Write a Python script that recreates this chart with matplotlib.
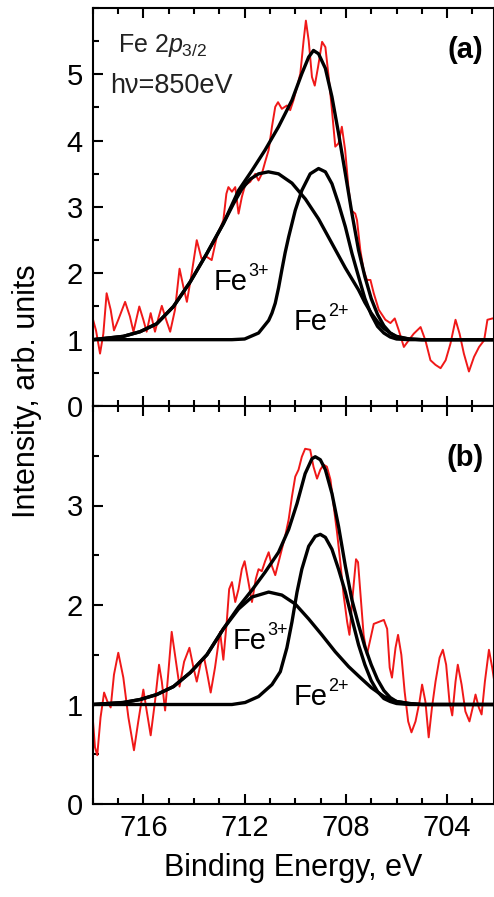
import matplotlib
matplotlib.use("Agg")
import matplotlib.pyplot as plt
from matplotlib.ticker import MultipleLocator

plt.rcParams['font.family'] = ['Liberation Sans', 'DejaVu Sans']
plt.rcParams['mathtext.fontset'] = 'custom'
plt.rcParams['mathtext.rm'] = 'Liberation Sans'
plt.rcParams['mathtext.it'] = 'Liberation Sans:italic'

# --- panel (a): measured spectrum (red) ---
a_data_e = [718.0, 717.87, 717.71, 717.58, 717.45, 717.29, 717.16, 716.99, 716.72, 716.53,
            716.39, 716.16, 716.0, 715.87, 715.71, 715.54, 715.41, 715.27, 715.10, 714.94,
            714.75, 714.57, 714.42, 714.28, 714.09, 713.89, 713.70, 713.50, 713.30, 713.10,
            712.84, 712.72, 712.64, 712.50, 712.37, 712.24, 712.11, 711.98, 711.78, 711.58,
            711.45, 711.32, 711.19, 711.05, 710.92, 710.79, 710.68, 710.53, 710.33, 710.20,
            710.07, 709.93, 709.80, 709.67, 709.58, 709.47, 709.34, 709.23, 709.10, 708.94,
            708.81, 708.68, 708.55, 708.42, 708.29, 708.16, 708.03, 707.90, 707.79, 707.63,
            707.56, 707.43, 707.30, 707.17, 707.03, 706.90, 706.70, 706.44, 706.24, 706.07,
            705.91, 705.71, 705.52, 705.32, 705.05, 704.86, 704.66, 704.46, 704.26, 704.06,
            703.87, 703.67, 703.51, 703.34, 703.14, 702.94, 702.74, 702.54, 702.41, 702.21,
            702.12]
a_data_i = [1.32, 1.14, 0.79, 1.09, 1.70, 1.45, 1.14, 1.30, 1.57, 1.35,
            1.12, 1.50, 1.30, 1.12, 1.40, 1.12, 1.32, 1.51, 1.30, 1.12,
            1.45, 2.07, 1.80, 1.57, 2.00, 2.50, 2.22, 2.25, 2.20, 2.55,
            2.80, 3.20, 3.30, 3.23, 3.30, 2.90, 3.15, 3.33, 3.38, 3.50,
            3.40, 3.50, 3.68, 3.86, 4.21, 4.51, 4.58, 4.48, 4.53, 4.46,
            4.61, 4.81, 5.01, 5.51, 5.81, 5.51, 4.96, 4.83, 5.11, 5.49,
            5.41, 4.96, 4.46, 3.91, 3.96, 4.21, 3.86, 3.30, 2.95, 2.90,
            2.80, 2.35, 2.05, 1.90, 1.90, 1.70, 1.45, 1.30, 1.25, 1.32,
            1.14, 0.89, 0.99, 1.09, 1.19, 0.99, 0.69, 0.62, 0.57, 0.69,
            0.94, 1.30, 1.09, 0.79, 0.52, 0.74, 0.89, 0.99, 1.30, 1.32,
            1.32]

# --- panel (a): fit components (black) ---
a_fe3_e = [718.0, 716.79, 716.13, 715.47, 714.81, 714.15, 713.49, 712.84, 712.44, 712.11,
           711.78, 711.45, 711.06, 710.66, 710.13, 709.60, 709.08, 708.55, 708.02, 707.50,
           707.25, 707.00, 706.75, 706.50, 706.25, 706.00, 705.50, 705.00, 702.0]
a_fe3_i = [1.00, 1.05, 1.12, 1.24, 1.50, 1.87, 2.30, 2.75, 3.05, 3.27,
           3.42, 3.50, 3.53, 3.50, 3.36, 3.12, 2.82, 2.45, 2.08, 1.75,
           1.56, 1.40, 1.27, 1.17, 1.10, 1.05, 1.01, 1.00, 1.00]

a_fe2_e = [718.0, 712.5, 712.0, 711.45, 711.05, 710.92, 710.79, 710.66, 710.53, 710.40,
           710.26, 710.00, 709.74, 709.41, 709.08, 708.81, 708.55, 708.29, 708.02, 707.76,
           707.50, 707.25, 707.00, 706.75, 706.50, 706.25, 706.00, 705.50, 702.0]
a_fe2_i = [1.00, 1.00, 1.01, 1.10, 1.29, 1.40, 1.55, 1.78, 2.05, 2.31,
           2.55, 2.95, 3.25, 3.50, 3.58, 3.53, 3.35, 3.05, 2.70, 2.30,
           1.95, 1.62, 1.38, 1.20, 1.10, 1.04, 1.01, 1.00, 1.00]

a_sum_e = [718.0, 716.79, 716.13, 715.47, 714.81, 714.15, 713.49, 712.84, 712.24, 711.71,
           711.19, 710.66, 710.13, 709.74, 709.47, 709.28, 709.08, 708.81, 708.55, 708.29,
           708.02, 707.76, 707.50, 707.25, 707.00, 706.75, 706.50, 706.25, 706.00, 705.50,
           705.00, 702.0]
a_sum_i = [1.00, 1.05, 1.12, 1.24, 1.50, 1.87, 2.30, 2.75, 3.25, 3.55,
           3.86, 4.21, 4.61, 5.01, 5.26, 5.36, 5.31, 5.09, 4.66, 4.11,
           3.50, 2.90, 2.35, 1.95, 1.62, 1.38, 1.21, 1.10, 1.04, 1.01,
           1.00, 1.00]

# --- panel (b): measured spectrum (red) ---
b_data_e = [718.0, 717.91, 717.82, 717.69, 717.55, 717.42, 717.29, 717.16, 716.99, 716.79,
            716.59, 716.37, 716.20, 716.00, 715.87, 715.71, 715.54, 715.38, 715.27, 715.14,
            715.01, 714.88, 714.75, 714.57, 714.39, 714.18, 714.02, 713.89, 713.72, 713.60,
            713.47, 713.34, 713.17, 712.97, 712.84, 712.70, 712.61, 712.50, 712.37, 712.24,
            712.11, 712.00, 711.87, 711.71, 711.56, 711.45, 711.32, 711.19, 711.05, 710.92,
            710.79, 710.66, 710.53, 710.40, 710.26, 710.13, 710.00, 709.87, 709.74, 709.61,
            709.41, 709.28, 709.14, 709.01, 708.88, 708.75, 708.61, 708.48, 708.35, 708.22,
            708.09, 707.95, 707.86, 707.73, 707.60, 707.52, 707.43, 707.30, 707.17, 707.03,
            706.90, 706.70, 706.50, 706.37, 706.27, 706.18, 706.04, 705.94, 705.81, 705.68,
            705.54, 705.41, 705.25, 705.09, 704.99, 704.86, 704.73, 704.60, 704.46, 704.30,
            704.17, 704.04, 703.91, 703.80, 703.67, 703.58, 703.43, 703.28, 703.12, 702.99,
            702.88, 702.75, 702.64, 702.51, 702.35, 702.22, 702.12]
b_data_i = [0.87, 0.57, 0.49, 0.87, 1.12, 1.03, 0.97, 1.30, 1.52, 1.27,
            0.87, 0.54, 0.83, 1.15, 0.94, 0.69, 1.03, 1.40, 1.23, 0.94,
            1.33, 1.73, 1.50, 1.18, 1.43, 1.57, 1.37, 1.23, 1.43, 1.47,
            1.30, 1.12, 1.37, 1.73, 1.45, 1.85, 2.16, 2.23, 2.03, 2.16,
            2.36, 2.44, 2.26, 2.03, 2.26, 2.36, 2.34, 2.44, 2.53, 2.39,
            2.30, 2.43, 2.56, 2.69, 2.86, 3.09, 3.29, 3.36, 3.49, 3.57,
            3.56, 3.39, 3.27, 3.36, 3.41, 3.39, 3.26, 2.99, 2.73, 2.43,
            2.10, 1.83, 1.70, 2.10, 2.46, 2.43, 2.13, 1.70, 1.50, 1.66,
            1.81, 1.83, 1.85, 1.76, 1.37, 1.27, 1.57, 1.70, 1.50, 1.13,
            0.83, 0.72, 0.83, 1.03, 1.20, 1.03, 0.67, 0.97, 1.23, 1.47,
            1.55, 1.40, 1.03, 0.89, 1.23, 1.40, 1.20, 0.93, 0.83, 0.97,
            1.10, 0.97, 0.90, 1.23, 1.55, 1.37, 1.20]

# --- panel (b): fit components (black) ---
b_fe3_e = [718.0, 716.79, 716.13, 715.47, 714.81, 714.15, 713.49, 712.84, 712.24, 711.71,
           711.05, 710.53, 710.00, 709.47, 708.95, 708.42, 707.89, 707.43, 707.00, 706.50,
           706.00, 705.50, 705.00, 702.0]
b_fe3_i = [1.00, 1.02, 1.05, 1.10, 1.18, 1.32, 1.50, 1.76, 1.96, 2.08,
           2.13, 2.10, 2.01, 1.86, 1.70, 1.53, 1.38, 1.27, 1.17, 1.08,
           1.03, 1.01, 1.00, 1.00]

b_fe2_e = [718.0, 712.5, 711.98, 711.45, 710.92, 710.59, 710.33, 710.13, 709.93, 709.74,
           709.47, 709.21, 709.01, 708.81, 708.55, 708.29, 708.02, 707.76, 707.50, 707.25,
           707.00, 706.75, 706.50, 706.25, 706.00, 705.50, 702.0]
b_fe2_i = [1.00, 1.00, 1.02, 1.08, 1.20, 1.33, 1.57, 1.83, 2.13, 2.36,
           2.59, 2.69, 2.71, 2.68, 2.56, 2.36, 2.13, 1.86, 1.60, 1.40,
           1.24, 1.13, 1.06, 1.03, 1.01, 1.00, 1.00]

b_sum_e = [718.0, 716.79, 716.13, 715.47, 714.81, 714.15, 713.49, 712.84, 712.24, 711.71,
           711.19, 710.66, 710.26, 709.93, 709.61, 709.34, 709.21, 709.01, 708.81, 708.55,
           708.29, 708.02, 707.76, 707.50, 707.25, 707.00, 706.75, 706.50, 706.25, 706.00,
           705.50, 705.00, 702.0]
b_sum_i = [1.00, 1.02, 1.05, 1.10, 1.18, 1.32, 1.50, 1.76, 1.98, 2.15,
           2.33, 2.53, 2.76, 3.02, 3.32, 3.47, 3.49, 3.46, 3.36, 3.12,
           2.79, 2.39, 2.05, 1.80, 1.58, 1.40, 1.25, 1.14, 1.07, 1.03,
           1.01, 1.00, 1.00]

x_ticks = [716, 712, 708, 704]
a_yticks = [0, 1, 2, 3, 4, 5]
b_yticks = [0, 1, 2, 3]

W, H = 494, 897
fig = plt.figure(figsize=(W / 100, H / 100), dpi=100)
fig.patch.set_facecolor('white')

left, right = 92.7 / W, 493.5 / W
mid = 1 - 406 / H
ax_a = fig.add_axes([left, mid, right - left, (1 - 8 / H) - mid])
ax_b = fig.add_axes([left, 1 - 804 / H, right - left, mid - (1 - 804 / H)])

red = '#f01818'
panels = [
    (ax_a, a_data_e, a_data_i, a_fe3_e, a_fe3_i, a_fe2_e, a_fe2_i, a_sum_e, a_sum_i, 6, a_yticks),
    (ax_b, b_data_e, b_data_i, b_fe3_e, b_fe3_i, b_fe2_e, b_fe2_i, b_sum_e, b_sum_i, 4, b_yticks),
]
for ax, de, di, e3, i3, e2, i2, es, is_, ytop, yt in panels:
    ax.plot(de, di, color=red, lw=1.4, zorder=2)
    ax.plot(e3, i3, color='black', lw=2.4, zorder=3, solid_joinstyle='round')
    ax.plot(e2, i2, color='black', lw=2.4, zorder=3, solid_joinstyle='round')
    ax.plot(es, is_, color='black', lw=2.4, zorder=4, solid_joinstyle='round')
    ax.set_xlim(718, 702.17)
    ax.set_ylim(0, ytop)
    ax.set_xticks(x_ticks)
    ax.xaxis.set_minor_locator(MultipleLocator(1))
    ax.set_yticks(yt)
    ax.yaxis.set_minor_locator(MultipleLocator(0.5))
    ax.tick_params(which='both', direction='in', top=True, right=False,
                   width=1.5, labelsize=21, pad=7)
    ax.tick_params(which='major', length=7)
    ax.tick_params(which='minor', length=4)
    for spine in ax.spines.values():
        spine.set_linewidth(1.5)

ax_a.tick_params(labelbottom=False)
ax_b.set_xlabel("Binding Energy, eV", fontsize=22, labelpad=8)

# --- annotations ---
ax_a.text(0.063, 0.889, r"Fe 2$p_{\mathrm{3/2}}$", transform=ax_a.transAxes,
          fontsize=18, ha='left', va='baseline', color='#222222')
ax_a.text(0.043, 0.786, "hν=850eV", transform=ax_a.transAxes,
          fontsize=19.5, ha='left', va='baseline', color='#222222')
ax_a.text(0.975, 0.895, "(a)", transform=ax_a.transAxes, fontsize=21,
          fontweight='bold', ha='right', va='center')
ax_b.text(0.975, 0.87, "(b)", transform=ax_b.transAxes, fontsize=21,
          fontweight='bold', ha='right', va='center')

# Fe labels: base text plus a small superscript offset in points
ion_labels = [
    (ax_a, 713.24, 1.75, "3+"),
    (ax_a, 710.07, 1.14, "2+"),
    (ax_b, 712.49, 1.56, "3+"),
    (ax_b, 710.07, 0.995, "2+"),
]
for ax, e, v, charge in ion_labels:
    ax.text(e, v, "Fe", fontsize=21, ha='left', va='baseline')
    ax.annotate(charge, xy=(e, v), xytext=(25, 10), textcoords='offset points',
                fontsize=13, ha='left', va='baseline')

fig.text(27 / W, 1 - 391 / H, "Intensity, arb. units", rotation=90,
         fontsize=22, ha='center', va='center')

fig.savefig("out.png", dpi=100)
